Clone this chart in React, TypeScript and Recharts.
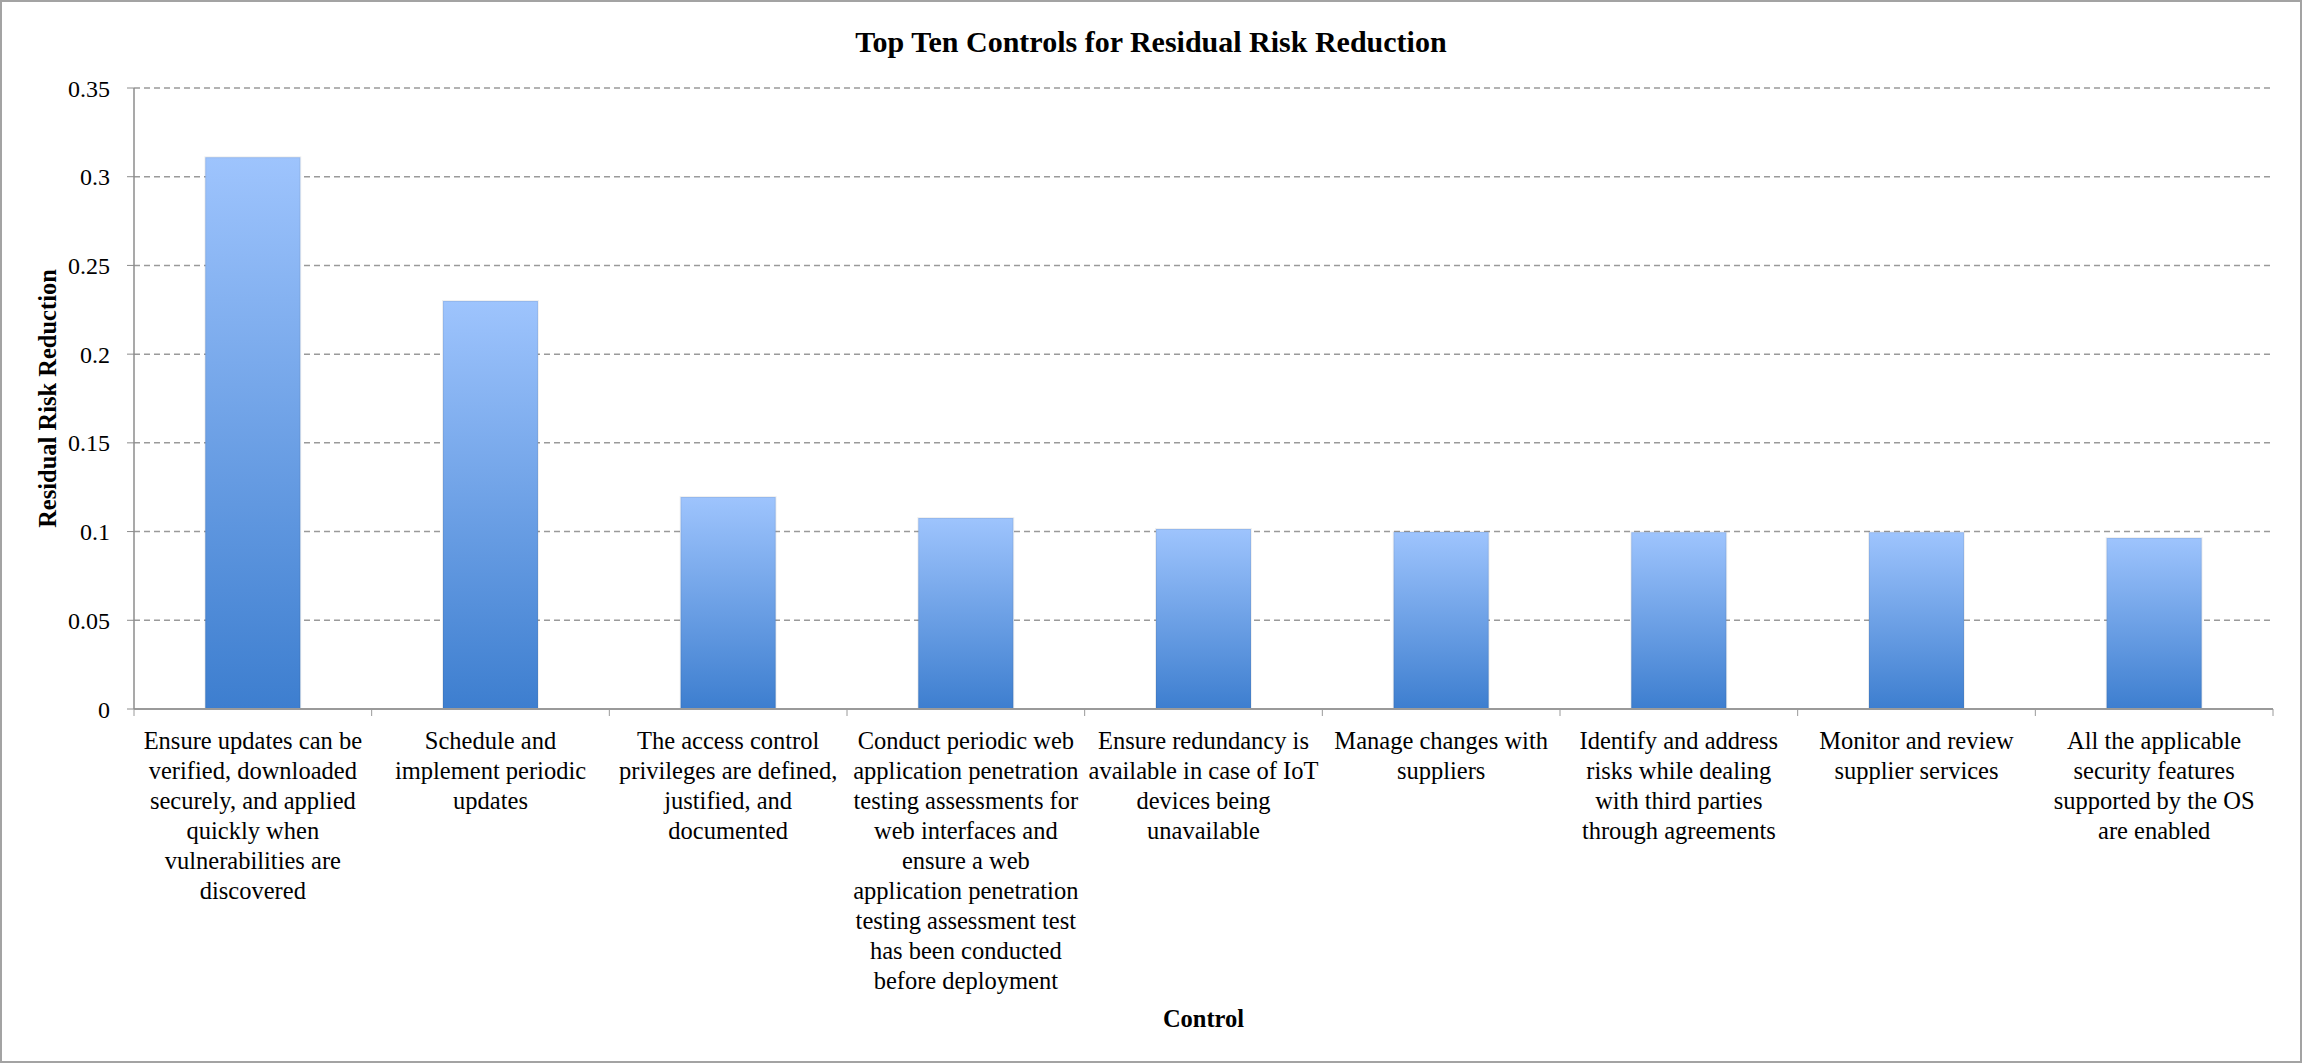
import React from 'react';
import { BarChart, Bar, XAxis, YAxis, CartesianGrid, Label } from 'recharts';

const categories: string[] = [
  'Ensure updates can be\nverified, downloaded\nsecurely, and applied\nquickly when\nvulnerabilities are\ndiscovered',
  'Schedule and\nimplement periodic\nupdates',
  'The access control\nprivileges are defined,\njustified, and\ndocumented',
  'Conduct periodic web\napplication penetration\ntesting assessments for\nweb interfaces and\nensure a web\napplication penetration\ntesting assessment test\nhas been conducted\nbefore deployment',
  'Ensure redundancy is\navailable in case of IoT\ndevices being\nunavailable',
  'Manage changes with\nsuppliers',
  'Identify and address\nrisks while dealing\nwith third parties\nthrough agreements',
  'Monitor and review\nsupplier services',
  'All the applicable\nsecurity features\nsupported by the OS\nare enabled',
];

const values: number[] = [0.311, 0.23, 0.1195, 0.1077, 0.1015, 0.0997, 0.0996, 0.0996, 0.0964];

const yTicks: number[] = [0, 0.05, 0.1, 0.15, 0.2, 0.25, 0.3, 0.35];

const title = 'Top Ten Controls for Residual Risk Reduction';
const xTitle = 'Control';
const yTitle = 'Residual Risk Reduction';

const data = categories.map((c, i) => ({ name: c, value: values[i] }));

const W = 2302;
const H = 1063;
const LEFT = 134;
const RIGHT_M = 29;
const TOP = 88;
const PLOT_BOTTOM = 709;
const FONT = "'Liberation Serif', 'Times New Roman', serif";
const PLOT_W = W - LEFT - RIGHT_M;
const BAND = PLOT_W / categories.length;

const CategoryTick = (props: any) => {
  const { x, y, payload, index } = props;
  const lines = String(payload.value).split('\n');
  const ay = PLOT_BOTTOM;
  return (
    <g>
      <line x1={x - BAND / 2} x2={x - BAND / 2} y1={ay} y2={ay + 7} stroke="#9a9a9a" strokeWidth={1} />
      {index === categories.length - 1 && (
        <line x1={x + BAND / 2} x2={x + BAND / 2} y1={ay} y2={ay + 7} stroke="#9a9a9a" strokeWidth={1} />
      )}
      <text x={x} y={ay + 40} textAnchor="middle" fontFamily={FONT} fontSize={24.5} fill="#000">
        {lines.map((l, i) => (
          <tspan key={i} x={x} y={ay + 40 + i * 30}>
            {l}
          </tspan>
        ))}
      </text>
    </g>
  );
};

export default function App() {
  return (
    <div style={{ position: 'absolute', left: 0, top: 0, width: W, height: H, background: '#fff' }}>
      <BarChart
        width={W}
        height={H}
        data={data}
        margin={{ top: TOP, right: RIGHT_M, left: 0, bottom: 0 }}
        barCategoryGap="30%"
      >
        <defs>
          <linearGradient id="barGrad" x1="0" y1="0" x2="0" y2="1">
            <stop offset="0%" stopColor="#9ec4fd" />
            <stop offset="100%" stopColor="#3d7ecf" />
          </linearGradient>
        </defs>
        <text x={W / 2} y={52} textAnchor="middle" fontFamily={FONT} fontWeight="bold" fontSize={30} fill="#000">
          {title}
        </text>
        <CartesianGrid horizontal vertical={false} stroke="#9a9a9a" strokeDasharray="6 4" strokeWidth={1.5} />
        <XAxis
          dataKey="name"
          height={H - PLOT_BOTTOM}
          interval={0}
          tickLine={false}
          axisLine={{ stroke: '#9a9a9a', strokeWidth: 2 }}
          tick={<CategoryTick />}
        >
          <Label
            content={() => (
              <text x={LEFT + PLOT_W / 2} y={1027} textAnchor="middle" fontFamily={FONT} fontWeight="bold" fontSize={24.5} fill="#000">
                {xTitle}
              </text>
            )}
          />
        </XAxis>
        <YAxis
          width={LEFT}
          domain={[0, 0.35]}
          ticks={yTicks}
          interval={0}
          tickSize={7}
          tickMargin={17}
          tickLine={{ stroke: '#8c8c8c' }}
          axisLine={{ stroke: '#8c8c8c', strokeWidth: 1.5 }}
          tick={{ fontFamily: FONT, fontSize: 24, fill: '#000' }}
        >
          <Label
            content={() => (
              <text
                x={56}
                y={(TOP + PLOT_BOTTOM) / 2}
                transform={`rotate(-90, 56, ${(TOP + PLOT_BOTTOM) / 2})`}
                textAnchor="middle"
                fontFamily={FONT}
                fontWeight="bold"
                fontSize={24.5}
                fill="#000"
              >
                {yTitle}
              </text>
            )}
          />
        </YAxis>
        <Bar dataKey="value" fill="url(#barGrad)" stroke="rgba(0,0,0,0.06)" strokeWidth={2} isAnimationActive={false} />
      </BarChart>
      <div
        style={{
          position: 'absolute',
          left: 0,
          top: 0,
          width: W,
          height: H,
          boxSizing: 'border-box',
          border: '2px solid #a3a3a3',
          pointerEvents: 'none',
        }}
      />
    </div>
  );
}
